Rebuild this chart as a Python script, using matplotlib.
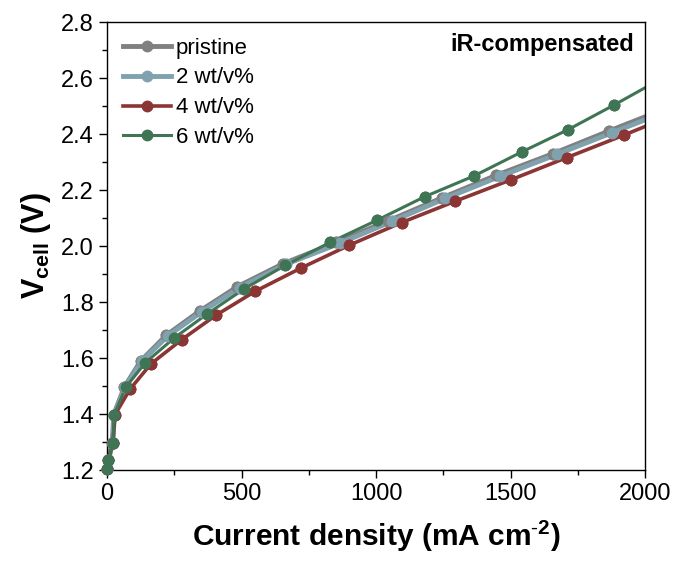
import matplotlib
matplotlib.use("Agg")
import matplotlib.pyplot as plt
from matplotlib.ticker import MultipleLocator

plt.rcParams['font.family'] = ['Liberation Sans', 'DejaVu Sans']
plt.rcParams['mathtext.fontset'] = 'custom'
plt.rcParams['mathtext.rm'] = 'Liberation Sans'
plt.rcParams['mathtext.bf'] = 'Liberation Sans:bold'

# polarization curves (mA cm-2, V)
x_pristine = [0, 5, 20, 25, 65, 125, 220, 345, 485, 655, 852, 1045, 1245, 1445, 1658, 1866, 2075]
v_pristine = [1.205, 1.236, 1.298, 1.398, 1.497, 1.589, 1.681, 1.768, 1.855, 1.937, 2.013, 2.090, 2.172, 2.252, 2.330, 2.411, 2.490]

x_2wt = [0, 5, 22, 27, 68, 129, 226, 352, 494, 665, 866, 1058, 1257, 1461, 1671, 1878, 2085]
v_2wt = [1.205, 1.236, 1.298, 1.398, 1.497, 1.588, 1.679, 1.765, 1.852, 1.935, 2.010, 2.088, 2.170, 2.249, 2.327, 2.405, 2.483]

x_4wt = [0, 5, 22, 30, 85, 163, 278, 405, 550, 720, 900, 1095, 1294, 1502, 1709, 1923, 2135]
v_4wt = [1.205, 1.236, 1.298, 1.398, 1.488, 1.579, 1.666, 1.753, 1.838, 1.921, 2.003, 2.084, 2.160, 2.237, 2.316, 2.397, 2.480]

x_6wt = [0, 5, 22, 27, 70, 142, 250, 373, 508, 662, 829, 1005, 1180, 1363, 1541, 1712, 1883, 2055]
v_6wt = [1.205, 1.236, 1.298, 1.398, 1.496, 1.583, 1.672, 1.758, 1.846, 1.931, 2.013, 2.093, 2.176, 2.250, 2.336, 2.415, 2.503, 2.595]

labels = ['pristine', '2 wt/v%', '4 wt/v%', '6 wt/v%']
colors = ['#808080', '#7fa2ae', '#8b3535', '#3f7454']
widths = [3.5, 3.5, 2.6, 2.2]

fig = plt.figure(figsize=(6.77, 5.65), dpi=100)
ax = fig.add_axes([0.158, 0.168, 0.795, 0.793])

XMAX = 2000
MS = 7.5
series = [(x_pristine, v_pristine), (x_2wt, v_2wt), (x_4wt, v_4wt), (x_6wt, v_6wt)]
for (xs, vs), lab, c, lw in zip(series, labels, colors, widths):
    ax.plot(xs, vs, '-o', color=c, lw=lw, ms=MS, label=lab)
    # markers sitting on the axes edge are drawn whole in the original
    xin = [a for a in xs if a <= XMAX]
    vin = [b for a, b in zip(xs, vs) if a <= XMAX]
    ax.plot(xin, vin, 'o', color=c, ms=MS, clip_on=False, zorder=3)

ax.set_xlim(0, XMAX)
ax.set_ylim(1.2, 2.8)
ax.xaxis.set_major_locator(MultipleLocator(500))
ax.xaxis.set_minor_locator(MultipleLocator(250))
ax.yaxis.set_major_locator(MultipleLocator(0.2))
ax.yaxis.set_minor_locator(MultipleLocator(0.1))
ax.yaxis.set_major_formatter(plt.FormatStrFormatter('%.1f'))
ax.tick_params(which='major', direction='out', length=6, width=1, labelsize=17, top=False, right=False)
ax.tick_params(which='minor', direction='out', length=3.5, width=1, top=False, right=False)
for s in ax.spines.values():
    s.set_linewidth(1.0)

ax.set_xlabel(r'Current density (mA cm$^{\mathbf{\text{-}2}}$)', fontsize=21.5, fontweight='bold', labelpad=9)
ax.set_ylabel(r'V$_{\mathbf{cell}}$ (V)', fontsize=22, fontweight='bold', labelpad=6)

ax.text(0.98, 0.975, 'iR-compensated', transform=ax.transAxes, ha='right', va='top',
        fontsize=17, fontweight='bold')
ax.legend(loc='upper left', frameon=False, fontsize=16, handlelength=2.2,
          handletextpad=0.2, labelspacing=0.4, borderaxespad=0.3)

fig.savefig('out.png', dpi=100)
